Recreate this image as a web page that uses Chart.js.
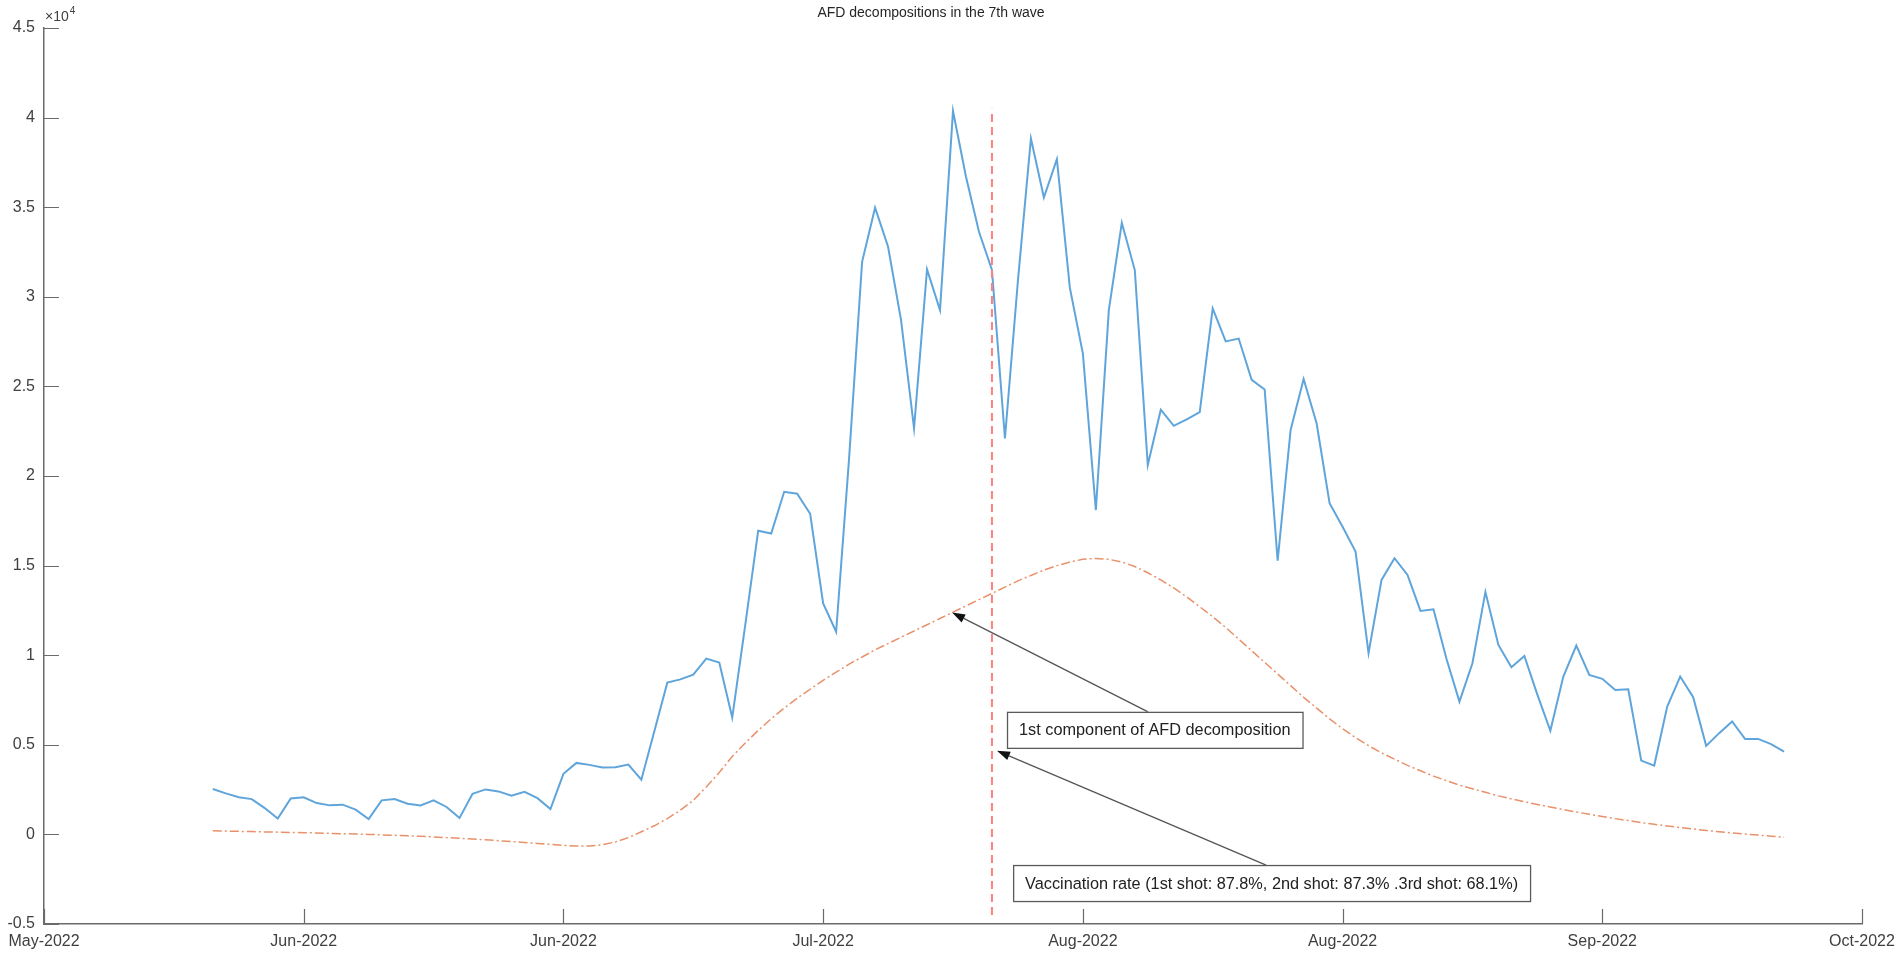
<!DOCTYPE html>
<html>
<head>
<meta charset="utf-8">
<title>AFD decompositions in the 7th wave</title>
<script src="https://cdn.jsdelivr.net/npm/chart.js@4.4.1/dist/chart.umd.min.js"></script>
<style>
  html, body { margin: 0; padding: 0; background: #fff; }
  #wrap { width: 1902px; height: 959px; position: relative; }
</style>
</head>
<body>
<div id="wrap"><canvas id="afdChart"></canvas></div>
<script>
// x axis counts days from the first tick (19 May 2022), ticks every 20 days
const axisStart = '2022-05-19';
const tickLabels = ['May-2022', 'Jun-2022', 'Jun-2022', 'Jul-2022', 'Aug-2022', 'Aug-2022', 'Sep-2022', 'Oct-2022'];
const firstDate = '2022-06-01';
const markerDate = '2022-07-31';

// daily new cases, 1 Jun - 30 Sep 2022
const dailyCases = [
  2530, 2290, 2070, 1970, 1470, 880, 2010, 2070, 1750, 1620,
  1660, 1380, 860, 1900, 1970, 1710, 1620, 1900, 1530, 920,
  2270, 2510, 2400, 2160, 2380, 2020, 1410, 3380, 3990, 3880,
  3730, 3750, 3900, 3050, 5750, 8470, 8650, 8910, 9810, 9590,
  6520, 11680, 16950, 16790, 19120, 19010, 17890, 12890, 11310, 21000,
  31950, 34970, 32790, 28700, 22660, 31530, 29260, 40370, 36700, 33630,
  31500, 22100, 30900, 38830, 35540, 37680, 30500, 26840, 18100, 29260,
  34130, 31490, 20610, 23700, 22800, 23160, 23560, 29350, 27510, 27670,
  25370, 24830, 15270, 22570, 25410, 22940, 18480, 17170, 15780, 10110,
  14200, 15410, 14480, 12470, 12560, 9800, 7410, 9550, 13530, 10570,
  9330, 9960, 7800, 5780, 8810, 10540, 8900, 8680, 8060, 8100,
  4120, 3840, 7130, 8810, 7660, 4940, 5650, 6300, 5320, 5330,
  5040, 4620
];

// 1st component of the AFD decomposition
const afdComponent1 = [
  200, 185, 170, 155, 140, 125, 110, 95, 80, 60,
  40, 20, 0, -25, -50, -80, -110, -145, -180, -220,
  -260, -305, -350, -400, -450, -505, -560, -610, -650, -650,
  -580, -420, -180, 150, 480, 880, 1350, 1900, 2650, 3450,
  4350, 5100, 5800, 6450, 7050, 7600, 8100, 8600, 9050, 9500,
  9900, 10300, 10650, 11000, 11350, 11700, 12050, 12400, 12750, 13100,
  13450, 13800, 14150, 14450, 14750, 15000, 15200, 15350, 15400, 15350,
  15200, 14950, 14600, 14200, 13750, 13250, 12700, 12150, 11550, 10900,
  10250, 9600, 8950, 8300, 7650, 7050, 6450, 5900, 5400, 4950,
  4550, 4200, 3850, 3550, 3250, 3000, 2750, 2550, 2350, 2150,
  1980, 1820, 1670, 1530, 1390, 1250, 1120, 1000, 880, 770,
  660, 560, 470, 380, 300, 220, 150, 80, 20, -40,
  -100, -160
];

const chartTitle = 'AFD decompositions in the 7th wave';
const fontFamily = '"Liberation Sans", Arial, Helvetica, sans-serif';
const axisColor = '#6a6a6a';
const textColor = '#404040';

// text arrows, given in data coordinates (day, cases)
const notes = [
  { text: '1st component of AFD decomposition', box: [74.16, 6838], from: [85.02, 6838], to: [69.93, 12381] },
  { text: 'Vaccination rate (1st shot: 87.8%, 2nd shot: 87.3% .3rd shot: 68.1%)', box: [74.63, -1710], from: [94.11, -1710], to: [73.39, 4663] }
];

function dayOffset(dateStr) {
  return Math.round((Date.parse(dateStr) - Date.parse(axisStart)) / 86400000);
}
const startDay = dayOffset(firstDate);
const markerDay = dayOffset(markerDate);
const toPoints = arr => arr.map((v, i) => ({ x: startDay + i, y: v }));

const extras = {
  id: 'extras',
  afterDatasetsDraw(chart) {
    const { ctx, chartArea, scales: { x, y } } = chart;
    ctx.save();
    // inward tick marks
    ctx.strokeStyle = axisColor;
    ctx.lineWidth = 1.2;
    ctx.beginPath();
    y.ticks.forEach(t => {
      const py = Math.round(y.getPixelForValue(t.value)) + 0.5;
      ctx.moveTo(chartArea.left, py);
      ctx.lineTo(chartArea.left + 15, py);
    });
    x.ticks.forEach(t => {
      const px = Math.round(x.getPixelForValue(t.value)) + 0.5;
      ctx.moveTo(px, chartArea.bottom);
      ctx.lineTo(px, chartArea.bottom - 15);
    });
    ctx.stroke();

    // exponent label
    ctx.fillStyle = textColor;
    ctx.textBaseline = 'alphabetic';
    ctx.textAlign = 'left';
    ctx.font = '14px ' + fontFamily;
    ctx.fillText('\u00d710', chartArea.left + 1, chartArea.top - 7);
    const w = ctx.measureText('\u00d710').width;
    ctx.font = '10px ' + fontFamily;
    ctx.fillText('4', chartArea.left + 2 + w, chartArea.top - 14);

    // annotations
    notes.forEach(n => {
      const fx = x.getPixelForValue(n.from[0]), fy = y.getPixelForValue(n.from[1]);
      const tx = x.getPixelForValue(n.to[0]), ty = y.getPixelForValue(n.to[1]);
      const ang = Math.atan2(ty - fy, tx - fx);
      const head = 13, half = 4.5;
      const bx = tx - head * Math.cos(ang), by = ty - head * Math.sin(ang);
      ctx.strokeStyle = '#555';
      ctx.lineWidth = 1.3;
      ctx.beginPath();
      ctx.moveTo(fx, fy);
      ctx.lineTo(bx, by);
      ctx.stroke();
      ctx.fillStyle = '#111';
      ctx.beginPath();
      ctx.moveTo(tx, ty);
      ctx.lineTo(bx + half * Math.sin(ang), by - half * Math.cos(ang));
      ctx.lineTo(bx - half * Math.sin(ang), by + half * Math.cos(ang));
      ctx.closePath();
      ctx.fill();

      ctx.font = '16.3px ' + fontFamily;
      const left = x.getPixelForValue(n.box[0]);
      const top = y.getPixelForValue(n.box[1]);
      const bw = ctx.measureText(n.text).width + 24;
      const bh = 36;
      ctx.fillStyle = '#fff';
      ctx.fillRect(left, top, bw, bh);
      ctx.strokeStyle = '#5a5a5a';
      ctx.lineWidth = 1.3;
      ctx.strokeRect(left + 0.5, top + 0.5, bw, bh);
      ctx.fillStyle = '#222';
      ctx.textBaseline = 'middle';
      ctx.fillText(n.text, left + 12, top + bh / 2 + 1);
    });
    ctx.restore();
  }
};

new Chart(document.getElementById('afdChart'), {
  type: 'line',
  data: {
    datasets: [
      {
        label: 'marker',
        data: [{ x: markerDay, y: -4500 }, { x: markerDay, y: 40500 }],
        borderColor: '#ff8080',
        borderWidth: 2,
        borderDash: [8, 5],
        pointRadius: 0
      },
      {
        label: 'daily cases',
        data: toPoints(dailyCases),
        borderColor: '#5fa5db',
        borderWidth: 2,
        pointRadius: 0,
        tension: 0
      },
      {
        label: '1st component of AFD decomposition',
        data: toPoints(afdComponent1),
        borderColor: '#e8916a',
        borderWidth: 1.5,
        borderDash: [9, 3, 2, 3],
        pointRadius: 0,
        tension: 0
      }
    ]
  },
  options: {
    responsive: true,
    maintainAspectRatio: false,
    animation: false,
    layout: { padding: { left: 0, right: 40, top: 0, bottom: 0 } },
    plugins: {
      legend: { display: false },
      tooltip: { enabled: false },
      title: {
        display: true,
        text: chartTitle,
        color: '#262626',
        font: { family: fontFamily, size: 14, weight: 'normal' },
        padding: { top: 5, bottom: 6.2 }
      }
    },
    scales: {
      x: {
        type: 'linear',
        min: 0,
        max: 140,
        afterFit: s => { s.height = 35; s.paddingLeft = 0; s.paddingRight = 0; },
        grid: { display: false, drawTicks: false },
        border: { display: true, color: axisColor, width: 1.5 },
        ticks: {
          stepSize: 20,
          autoSkip: false,
          maxRotation: 0,
          padding: 8,
          color: textColor,
          font: { family: fontFamily, size: 16 },
          callback: v => tickLabels[Math.round(v / 20)] ?? ''
        }
      },
      y: {
        min: -5000,
        max: 45000,
        afterFit: s => { s.width = 44; s.paddingTop = 0; s.paddingBottom = 0; },
        grid: { display: false, drawTicks: false },
        border: { display: true, color: axisColor, width: 1.5 },
        ticks: {
          stepSize: 5000,
          padding: 9,
          color: textColor,
          font: { family: fontFamily, size: 16 },
          callback: v => String(Math.round(v / 1000) / 10)
        }
      }
    }
  },
  plugins: [extras]
});
</script>
</body>
</html>
